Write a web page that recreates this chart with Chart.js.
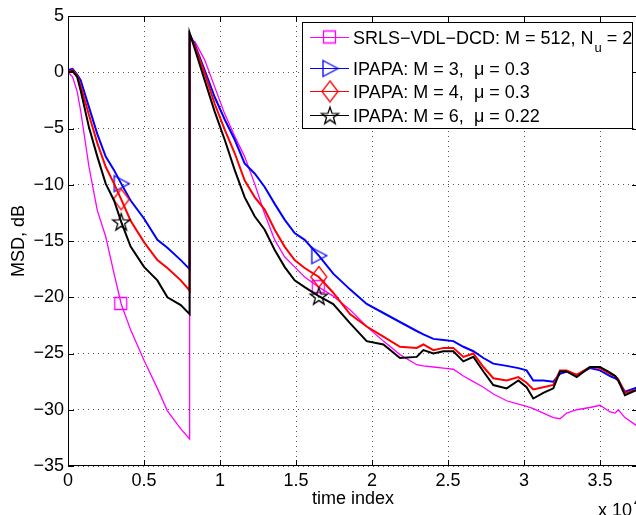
<!DOCTYPE html>
<html>
<head>
<meta charset="utf-8">
<script src="https://cdn.jsdelivr.net/npm/chart.js@4.4.1/dist/chart.umd.min.js"></script>
<style>
  html, body { margin: 0; padding: 0; background: #fff; overflow: hidden; }
  #wrap { width: 640px; height: 515px; }
</style>
</head>
<body>
<div id="wrap"><canvas id="msdChart" width="640" height="515"></canvas></div>
<script>
// time index (samples); 8000 twice = the system change
const timeIdx = [0, 300, 600, 830, 1380, 1930, 2480, 3030, 3500, 4120, 5000, 5880, 6540, 7420, 8000,
  8000, 8360, 8990, 9650, 10310, 10970, 11620, 12280, 12940, 13600, 14250, 14910, 15570, 16500,
  17450, 18550, 19650, 20750, 21840, 22940, 23380, 24040, 24700, 25350, 26010, 26670, 27330,
  27980, 28860, 29630, 30170, 30610, 31270, 31930, 32370, 32810, 33470, 34340, 35000, 35660,
  36000, 36200, 36640, 37500];

const srlsMsd = [0.0, -0.4, -1.7, -3.4, -8.4, -12.3, -14.6, -17.9, -20.6, -22.9, -25.6, -28.1, -30.1, -31.7, -32.6,
  3.0, 2.7, 1.1, -1.3, -3.7, -5.7, -7.5, -9.9, -12.6, -14.9, -16.4, -17.3, -18.2, -19.1,
  -19.9, -21.1, -22.6, -23.9, -25.1, -26.0, -26.1, -26.2, -26.3, -26.4, -27.0, -27.5, -28.0,
  -28.6, -29.2, -29.5, -29.7, -29.9, -30.3, -30.7, -30.8, -30.3, -30.0, -29.8, -29.6, -30.2,
  -30.3, -30.0, -30.7, -31.5];

const ipapaM3 = [0.2, 0.3, -0.2, -0.7, -3.1, -5.5, -7.5, -8.7, -9.9, -11.4, -13.0, -14.9, -15.6, -16.7, -17.5,
  3.4, 2.4, 0.2, -2.2, -4.2, -6.0, -8.1, -9.0, -10.2, -11.7, -13.1, -14.3, -14.9, -16.3,
  -17.9, -19.3, -20.6, -21.4, -22.2, -23.0, -23.3, -23.7, -23.8, -23.9, -24.4, -24.8, -25.4,
  -25.9, -26.1, -26.3, -26.5, -27.4, -27.4, -27.5, -26.8, -26.6, -26.9, -26.3, -26.5, -27.0,
  -27.2, -27.4, -28.4, -28.0];

const ipapaM4 = [0.0, 0.2, -0.3, -1.2, -3.8, -6.3, -8.4, -9.9, -11.3, -13.2, -15.1, -16.7, -17.4, -18.5, -19.4,
  3.3, 2.3, -0.1, -2.8, -5.1, -7.2, -9.6, -11.1, -12.2, -14.0, -15.5, -16.7, -17.4, -18.2,
  -19.6, -21.5, -22.6, -23.5, -24.4, -24.5, -24.2, -24.7, -24.5, -24.5, -25.3, -25.0, -26.2,
  -27.2, -27.4, -27.1, -27.6, -28.2, -28.0, -27.8, -26.5, -26.5, -26.9, -26.2, -26.3, -26.8,
  -27.0, -27.3, -28.5, -28.2];

const ipapaM6 = [0.0, 0.1, -0.4, -1.6, -4.9, -7.5, -9.9, -11.4, -13.3, -15.5, -17.3, -18.5, -20.0, -20.7, -21.5,
  3.5, 2.0, -0.7, -3.5, -6.0, -8.7, -11.1, -12.8, -14.0, -15.8, -17.3, -18.5, -19.1, -19.9,
  -20.6, -22.3, -23.9, -24.2, -25.4, -25.3, -24.7, -25.0, -24.8, -24.8, -25.7, -25.3, -26.6,
  -27.8, -28.1, -27.4, -28.0, -29.0, -28.5, -28.1, -26.6, -26.6, -27.1, -26.2, -26.2, -26.7,
  -27.0, -27.4, -28.7, -28.2];

const markerTimes = [3500, 16500];
const xTickValues = [0, 5000, 10000, 15000, 20000, 25000, 30000, 35000];
const yTickValues = [-35, -30, -25, -20, -15, -10, -5, 0, 5];

const FONT = '"Liberation Sans", Arial, sans-serif';
Chart.defaults.font.family = FONT;
Chart.defaults.font.size = 18;
Chart.defaults.color = '#000';

// markers drawn as small canvases (matlab style, hollow)
function makeMarker(color, draw) {
  const c = document.createElement('canvas');
  c.width = 24; c.height = 24;
  const g = c.getContext('2d');
  g.strokeStyle = color;
  g.lineWidth = 1.3;
  g.beginPath();
  draw(g);
  g.closePath();
  g.stroke();
  return c;
}

const squareMk = makeMarker('#ff00ff', g => g.rect(5.5, 5.5, 12, 12));
const triMk = makeMarker('#0000ff', g => { g.moveTo(20, 12); g.lineTo(5, 4); g.lineTo(5, 20); });
const diamondMk = makeMarker('#ff0000', g => { g.moveTo(12, 1.5); g.lineTo(20, 12); g.lineTo(12, 22.5); g.lineTo(4, 12); });
const starMk = makeMarker('#000000', g => {
  for (let k = 0; k < 10; k++) {
    const r = k % 2 ? 3.6 : 9;
    const a = -Math.PI / 2 + k * Math.PI / 5;
    const px = 12 + r * Math.cos(a), py = 12.8 + r * Math.sin(a);
    if (k) g.lineTo(px, py); else g.moveTo(px, py);
  }
});

function series(label, vals, color, width, marker, order) {
  return {
    label: label,
    data: timeIdx.map((t, i) => ({ x: t, y: vals[i] })),
    borderColor: color,
    borderWidth: width,
    tension: 0,
    order: order,
    pointStyle: marker,
    pointRadius: ctx => markerTimes.includes(timeIdx[ctx.dataIndex]) ? 8 : 0,
    pointHoverRadius: 0
  };
}

const legendRows = [
  { color: '#ff00ff', marker: squareMk, y: 37, text: 'SRLS\u2212VDL\u2212DCD: M = 512, N', sub: 'u', tail: ' = 2' },
  { color: '#0000ff', marker: triMk, y: 68, text: 'IPAPA: M = 3,  \u03bc = 0.3' },
  { color: '#ff0000', marker: diamondMk, y: 91, text: 'IPAPA: M = 4,  \u03bc = 0.3' },
  { color: '#000000', marker: starMk, y: 115, text: 'IPAPA: M = 6,  \u03bc = 0.22' }
];

const framePlugin = {
  id: 'frame',
  afterDraw(chart) {
    const { ctx, chartArea: a, scales: { x, y } } = chart;
    ctx.save();
    ctx.strokeStyle = '#000';
    ctx.lineWidth = 1;
    ctx.setLineDash([]);

    // inward ticks on all four sides
    ctx.beginPath();
    xTickValues.forEach(v => {
      const px = Math.round(x.getPixelForValue(v)) + 0.5;
      ctx.moveTo(px, a.bottom); ctx.lineTo(px, a.bottom - 6);
      ctx.moveTo(px, a.top); ctx.lineTo(px, a.top + 6);
    });
    yTickValues.forEach(v => {
      const py = Math.round(y.getPixelForValue(v)) + 0.5;
      ctx.moveTo(a.left, py); ctx.lineTo(a.left + 6, py);
      ctx.moveTo(a.right, py); ctx.lineTo(a.right - 6, py);
    });
    ctx.stroke();
    ctx.strokeRect(a.left + 0.5, a.top + 0.5, a.right - a.left - 1, a.bottom - a.top - 1);

    // legend
    ctx.fillStyle = '#fff';
    ctx.fillRect(303, 23, 329, 105);
    ctx.strokeRect(302.5, 22.5, 330, 106);
    legendRows.forEach(r => {
      ctx.strokeStyle = r.color;
      ctx.lineWidth = 1.2;
      ctx.beginPath();
      ctx.moveTo(310, r.y + 0.5);
      ctx.lineTo(349, r.y + 0.5);
      ctx.stroke();
      ctx.drawImage(r.marker, 330 - 12, r.y - 11.5);
      ctx.fillStyle = '#000';
      ctx.font = '18px ' + FONT;
      ctx.textBaseline = 'alphabetic';
      ctx.textAlign = 'left';
      const base = r.y + 6.5;
      ctx.fillText(r.text, 353, base);
      if (r.sub) {
        let xx = 353 + ctx.measureText(r.text).width;
        ctx.font = '13px ' + FONT;
        ctx.fillText(r.sub, xx + 1, base + 8);
        xx += 1 + ctx.measureText(r.sub).width;
        ctx.font = '18px ' + FONT;
        ctx.fillText(r.tail, xx, base);
      }
    });

    // exponent label
    ctx.fillStyle = '#000';
    ctx.font = '18px ' + FONT;
    ctx.fillText('x 10', 598, 516);
    ctx.font = '13px ' + FONT;
    ctx.fillText('4', 634, 506);
    ctx.restore();
  }
};

const ctx = document.getElementById('msdChart').getContext('2d');

new Chart(ctx, {
  type: 'line',
  data: {
    datasets: [
      series('SRLS-VDL-DCD: M = 512, Nu = 2', srlsMsd, '#ff00ff', 1.3, squareMk, 4),
      series('IPAPA: M = 3, mu = 0.3', ipapaM3, '#0000ff', 2, triMk, 3),
      series('IPAPA: M = 4, mu = 0.3', ipapaM4, '#ff0000', 2, diamondMk, 2),
      series('IPAPA: M = 6, mu = 0.22', ipapaM6, '#000000', 2, starMk, 1)
    ]
  },
  options: {
    responsive: false,
    animation: false,
    events: [],
    layout: { padding: { top: 16, right: 2, bottom: 0, left: 0 } },
    plugins: {
      legend: { display: false },
      tooltip: { enabled: false }
    },
    scales: {
      x: {
        type: 'linear',
        min: 0,
        max: 37500,
        afterFit: s => { s.height = 49; },
        afterBuildTicks: s => { s.ticks = xTickValues.map(v => ({ value: v })); },
        ticks: {
          padding: 4,
          maxRotation: 0,
          autoSkip: false,
          callback: v => String(v / 10000)
        },
        grid: { color: '#555', lineWidth: 1, drawTicks: false },
        border: { display: false, dash: [1, 4] },
        title: { display: true, text: 'time index', font: { size: 18 }, padding: { top: 0, bottom: 5 } }
      },
      y: {
        min: -35,
        max: 5,
        afterFit: s => { s.width = 68; },
        afterBuildTicks: s => { s.ticks = yTickValues.map(v => ({ value: v })); },
        ticks: {
          padding: 4,
          callback: v => (v < 0 ? '\u2212' + Math.abs(v) : String(v))
        },
        grid: { color: '#555', lineWidth: 1, drawTicks: false },
        border: { display: false, dash: [1, 4] },
        title: { display: true, text: 'MSD, dB', font: { size: 18 }, padding: { top: 8, bottom: 0 } }
      }
    }
  },
  plugins: [framePlugin]
});
</script>
</body>
</html>
